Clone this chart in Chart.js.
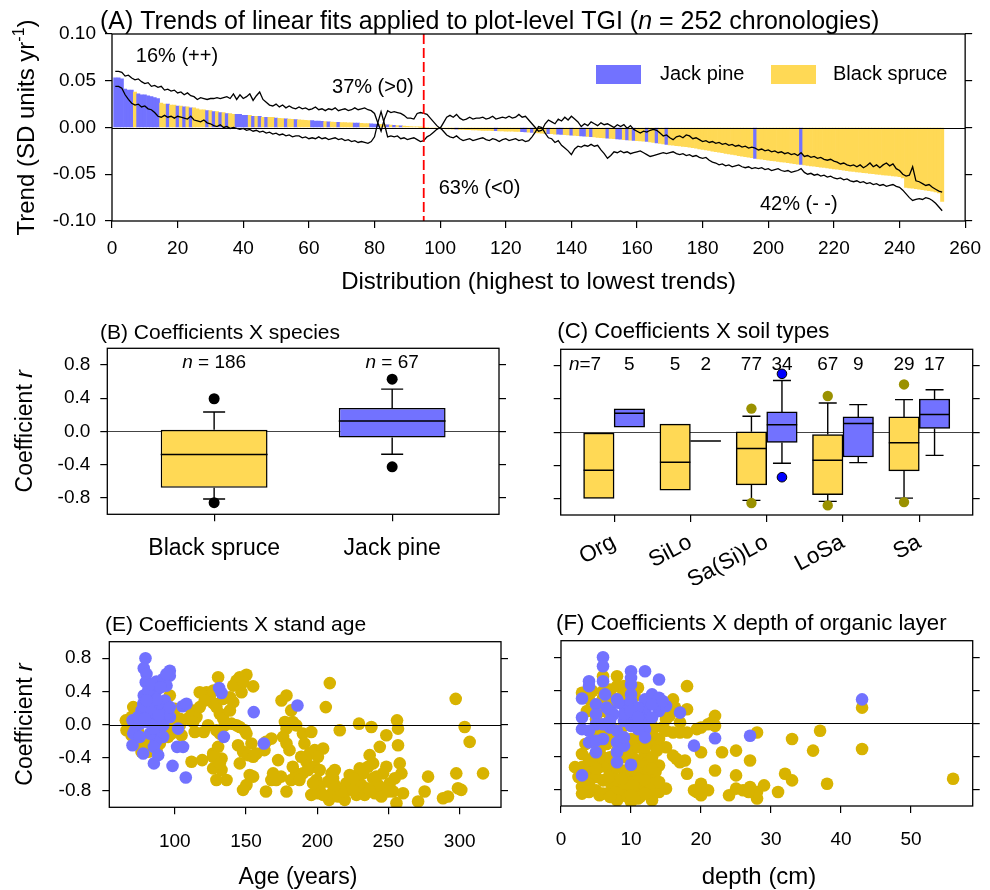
<!DOCTYPE html>
<html>
<head>
<meta charset="utf-8">
<title>TGI trends and correlation coefficients</title>
<script src="https://cdn.jsdelivr.net/npm/chart.js@4.4.0/dist/chart.umd.min.js"></script>
<style>
  html, body { margin: 0; padding: 0; background: #fff; }
  #fig { position: relative; width: 990px; height: 890px; overflow: hidden; }
  #fig canvas { position: absolute; left: 0; top: 0; }
</style>
</head>
<body>
<div id="fig">
  <canvas id="cA" width="990" height="890"></canvas>
  <canvas id="cB" width="990" height="890"></canvas>
  <canvas id="cC" width="990" height="890"></canvas>
  <canvas id="cE" width="990" height="890"></canvas>
  <canvas id="cF" width="990" height="890"></canvas>
</div>
<script>
// ---------------- tick labels ----------------
const rankTicks  = [0, 20, 40, 60, 80, 100, 120, 140, 160, 180, 200, 220, 240, 260];
const trendTicks = [-0.10, -0.05, 0.00, 0.05, 0.10];
const coefTicks  = [-0.8, -0.4, 0.0, 0.4, 0.8];
const ageTicks   = [100, 150, 200, 250, 300];
const depthTicks = [0, 10, 20, 30, 40, 50];

// ---------------- (A) plot-level trends, sorted highest to lowest ----------------
const plotTrend = [
  0.053, 0.053, 0.052, 0.041, 0.040, 0.040, 0.038, 0.036, 0.035, 0.035,
  0.034, 0.033, 0.032, 0.031, 0.026, 0.025, 0.025, 0.024, 0.024, 0.023,
  0.023, 0.022, 0.022, 0.021, 0.021, 0.020, 0.019, 0.019, 0.018, 0.018,
  0.017, 0.017, 0.016, 0.016, 0.015, 0.015, 0.014, 0.014, 0.014, 0.013,
  0.013, 0.013, 0.012, 0.012, 0.012, 0.011, 0.011, 0.011, 0.011, 0.0100,
  0.0098, 0.0095, 0.0093, 0.0090, 0.0088, 0.0085, 0.0082, 0.0080, 0.0077, 0.0075,
  0.0073, 0.0070, 0.0068, 0.0065, 0.0063, 0.0060, 0.0058, 0.0056, 0.0055, 0.0053,
  0.0052, 0.0050, 0.0049, 0.0047, 0.0046, 0.0045, 0.0043, 0.0041, 0.0039, 0.0037,
  0.0035, 0.0033, 0.0031, 0.0029, 0.0026, 0.0024, 0.0021, 0.0019, 0.0016, 0.0013,
  0.0010, 0.0008, 0.0005, 0.0002, -0.0001, -0.0003, -0.0005, -0.0007, -0.0009, -0.0011,
  -0.0012, -0.0014, -0.0015, -0.0017, -0.0018, -0.0020, -0.0021, -0.0023, -0.0024, -0.0026,
  -0.0027, -0.0029, -0.0030, -0.0031, -0.0032, -0.0034, -0.0035, -0.0036, -0.0037, -0.0038,
  -0.0039, -0.0040, -0.0041, -0.0043, -0.0045, -0.0047, -0.0050, -0.0052, -0.0055, -0.0057,
  -0.0060, -0.0062, -0.0065, -0.0067, -0.0070, -0.0072, -0.0075, -0.0077, -0.0080, -0.0082,
  -0.0085, -0.0087, -0.0090, -0.0093, -0.0096, -0.0099, -0.0102, -0.0105, -0.0108, -0.0111,
  -0.0114, -0.0117, -0.0120, -0.0123, -0.0126, -0.0129, -0.0132, -0.0135, -0.0138, -0.0141,
  -0.0144, -0.0147, -0.0150, -0.0155, -0.0160, -0.0166, -0.0171, -0.0176, -0.0181, -0.0186,
  -0.0190, -0.0194, -0.0198, -0.0202, -0.0206, -0.0210, -0.0216, -0.0222, -0.0228, -0.0234,
  -0.0240, -0.0246, -0.0252, -0.0258, -0.0264, -0.0270, -0.0276, -0.0282, -0.0288, -0.0294,
  -0.0300, -0.0306, -0.0312, -0.0318, -0.0324, -0.0330, -0.0335, -0.0340, -0.0344, -0.0349,
  -0.0354, -0.0358, -0.0363, -0.0368, -0.0372, -0.0377, -0.0382, -0.0386, -0.0391, -0.0396,
  -0.0400, -0.0405, -0.0410, -0.0414, -0.0419, -0.0424, -0.0428, -0.0433, -0.0438, -0.0442,
  -0.0447, -0.0452, -0.0456, -0.0461, -0.0466, -0.0470, -0.0474, -0.0478, -0.0482, -0.0486,
  -0.0490, -0.0494, -0.0498, -0.0502, -0.0506, -0.0509, -0.0513, -0.0517, -0.0521, -0.0525,
  -0.0540, -0.0640, -0.0645, -0.0650, -0.0655, -0.0660, -0.0665, -0.0670, -0.0675, -0.0680,
  -0.0690, -0.0700, -0.0790
];
const trendUpper = [
  0.060, 0.060, 0.059, 0.055, 0.056, 0.053, 0.051, 0.052, 0.049, 0.047,
  0.048, 0.044, 0.045, 0.043, 0.044, 0.040, 0.041, 0.039, 0.040, 0.037,
  0.038, 0.035, 0.037, 0.034, 0.033, 0.030, 0.032, 0.031, 0.030, 0.031,
  0.031, 0.032, 0.031, 0.032, 0.033, 0.031, 0.036, 0.030, 0.035, 0.031,
  0.033, 0.036, 0.029, 0.034, 0.038, 0.030, 0.027, 0.024, 0.023, 0.025,
  0.022, 0.024, 0.021, 0.023, 0.021, 0.020, 0.022, 0.020, 0.021, 0.019,
  0.020, 0.022, 0.019, 0.020, 0.018, 0.020, 0.019, 0.021, 0.018, 0.019,
  0.020, 0.018, 0.019, 0.021, 0.019, 0.020, 0.021, 0.019, 0.018, 0.015,
  0.005, -0.004, 0.009, 0.018, 0.016, 0.017, 0.016, 0.015, 0.013, 0.010,
  0.010, 0.009, 0.015, 0.016, 0.015, 0.014, 0.010, 0.006, 0.002, -0.001,
  0.005, 0.011, 0.013, 0.011, 0.014, 0.010, 0.008, 0.009, 0.011, 0.009,
  0.010, 0.010, 0.011, 0.009, 0.010, 0.012, 0.009, 0.010, 0.011, 0.010,
  0.012, 0.010, 0.011, 0.014, 0.011, 0.012, 0.008, 0.004, 0.000, -0.004,
  -0.003, 0.004, 0.008, 0.006, 0.004, 0.009, 0.007, 0.011, 0.008, 0.012,
  0.009, 0.006, 0.001, 0.004, 0.002, 0.006, 0.004, 0.002, 0.005, 0.003,
  0.004, 0.002, 0.000, 0.003, 0.001, 0.003, -0.001, 0.002, -0.002, -0.004,
  -0.006, -0.004, -0.005, -0.003, -0.002, -0.003, -0.006, -0.009, -0.008, -0.011,
  -0.013, -0.010, -0.009, -0.011, -0.008, -0.009, -0.012, -0.011, -0.013, -0.015,
  -0.014, -0.016, -0.015, -0.017, -0.016, -0.018, -0.017, -0.019, -0.018, -0.020,
  -0.019, -0.021, -0.020, -0.022, -0.021, -0.022, -0.024, -0.023, -0.025, -0.024,
  -0.026, -0.025, -0.027, -0.026, -0.028, -0.027, -0.029, -0.028, -0.030, -0.027,
  -0.031, -0.030, -0.032, -0.031, -0.033, -0.032, -0.034, -0.035, -0.034, -0.036,
  -0.037, -0.039, -0.038, -0.040, -0.041, -0.040, -0.042, -0.040, -0.043, -0.041,
  -0.038, -0.042, -0.040, -0.043, -0.040, -0.038, -0.041, -0.039, -0.044, -0.046,
  -0.050, -0.052, -0.051, -0.042, -0.057, -0.058, -0.060, -0.062, -0.061, -0.064,
  -0.066, -0.068, -0.069
];
const trendLower = [
  0.044, 0.044, 0.042, 0.035, 0.030, 0.026, 0.024, 0.025, 0.022, 0.023,
  0.020, 0.019, 0.016, 0.012, 0.011, 0.013, 0.011, 0.012, 0.010, 0.012,
  0.011, 0.010, 0.009, 0.012, 0.008, 0.007, 0.006, 0.008, 0.005, 0.004,
  0.002, 0.001, 0.003, 0.000, 0.001, -0.001, 0.000, -0.001, -0.002, -0.001,
  -0.003, -0.002, -0.004, -0.003, -0.005, -0.004, -0.006, -0.005, -0.007, -0.006,
  -0.008, -0.007, -0.009, -0.008, -0.010, -0.009, -0.009, -0.011, -0.010, -0.012,
  -0.011, -0.012, -0.010, -0.012, -0.011, -0.013, -0.012, -0.011, -0.013, -0.012,
  -0.014, -0.013, -0.015, -0.014, -0.016, -0.015, -0.016, -0.017, -0.015, -0.010,
  0.005, 0.017, 0.004, -0.010, -0.009, -0.010, -0.009, -0.012, -0.011, -0.013,
  -0.012, -0.011, -0.013, -0.015, -0.014, -0.010, -0.008, -0.005, -0.002, 0.000,
  -0.004, -0.008, -0.010, -0.011, -0.009, -0.012, -0.014, -0.013, -0.012, -0.014,
  -0.013, -0.012, -0.011, -0.013, -0.014, -0.012, -0.013, -0.015, -0.013, -0.012,
  -0.014, -0.013, -0.012, -0.014, -0.013, -0.015, -0.014, -0.010, -0.005, 0.001,
  0.000, -0.006, -0.011, -0.012, -0.016, -0.014, -0.019, -0.022, -0.025, -0.029,
  -0.023, -0.020, -0.021, -0.019, -0.020, -0.018, -0.020, -0.019, -0.024, -0.028,
  -0.033, -0.030, -0.026, -0.027, -0.025, -0.027, -0.026, -0.028, -0.027, -0.026,
  -0.025, -0.027, -0.029, -0.031, -0.030, -0.029, -0.028, -0.027, -0.028, -0.027,
  -0.026, -0.028, -0.029, -0.028, -0.030, -0.029, -0.031, -0.030, -0.032, -0.033,
  -0.032, -0.035, -0.037, -0.038, -0.040, -0.039, -0.041, -0.040, -0.042, -0.041,
  -0.040, -0.042, -0.043, -0.042, -0.044, -0.043, -0.044, -0.043, -0.045, -0.044,
  -0.046, -0.045, -0.044, -0.046, -0.047, -0.046, -0.048, -0.047, -0.046, -0.044,
  -0.048, -0.050, -0.049, -0.051, -0.050, -0.052, -0.051, -0.053, -0.052, -0.054,
  -0.055, -0.054, -0.056, -0.055, -0.057, -0.058, -0.057, -0.059, -0.058, -0.060,
  -0.059, -0.061, -0.060, -0.062, -0.061, -0.063, -0.062, -0.061, -0.063, -0.064,
  -0.067, -0.071, -0.075, -0.078, -0.077, -0.076, -0.077, -0.075, -0.076, -0.078,
  -0.081, -0.085, -0.089
];
// ranks (position in the sorted distribution) held by Jack pine plots; all others are Black spruce
const jackPineRanks = [
  1, 2, 3, 4, 5, 6, 8, 9, 10, 11, 12, 13, 14, 17, 20, 22, 24, 29, 31, 33, 35,
  38, 39, 40, 41, 43, 45, 47, 50, 53, 56, 61, 62, 63, 64, 66, 69, 74, 75, 79, 80,
  81, 84, 86, 88, 105, 117, 125, 126, 128, 133, 136, 137, 140, 143, 144, 146, 151,
  154, 155, 157, 159, 163, 166, 169, 196, 210
];
const zeroCrossRank = 95;
const shareLabels = ['16% (++)', '37% (>0)', '63% (<0)', '42% (- -)'];
const chronologyCount = 252;

// ---------------- (B) coefficients by species: [lower whisker, Q1, median, Q3, upper whisker] ----------------
const speciesNames  = ['Black spruce', 'Jack pine'];
const speciesCounts = [186, 67];
const speciesBoxBS  = [-0.816, -0.68, -0.28, 0.02, 0.232];
const speciesBoxJP  = [-0.276, -0.076, 0.124, 0.28, 0.508];
const speciesOutBS  = [0.392, -0.86];
const speciesOutJP  = [0.628, -0.428];

// ---------------- (C) coefficients by soil type ----------------
const soilTypes    = ['Org', 'SiLo', 'Sa(Si)Lo', 'LoSa', 'Sa'];
const soilCountsBS = [7, 5, 77, 67, 29];
const soilCountsJP = [5, 2, 34, 9, 17];
const soilBoxBS = [
  [null, -0.80, -0.46, -0.01, null],
  [null, -0.70, -0.364, 0.096, null],
  [-0.824, -0.636, -0.196, 0.004, 0.192],
  [-0.836, -0.756, -0.34, -0.028, 0.352],
  [-0.796, -0.468, -0.128, 0.184, 0.392]
];
const soilBoxJP = [
  [null, 0.06, 0.228, 0.28, null],
  [null, -0.108, -0.108, -0.108, null],
  [-0.376, -0.124, 0.088, 0.244, 0.624],
  [-0.368, -0.30, 0.104, 0.184, 0.332],
  [-0.28, 0.044, 0.212, 0.40, 0.512]
];
const soilOutBS = [[], [], [0.284, -0.856], [0.436, -0.884], [0.576, -0.844]];
const soilOutJP = [[], [], [0.704, -0.544], [], []];

// ---------------- (E) coefficient vs stand age [years, r] ----------------
const ageCoefJP = [
  [79.4,0.80],[78.2,0.68],[80.1,0.61],[79.6,0.51],[87.1,0.52],[91.8,0.55],[96.5,0.65],[96.5,0.59],[94.2,0.47],[87.1,0.41],
  [78.2,0.35],[81.3,0.33],[84.8,0.37],[93.0,0.29],[77.8,0.25],[81.3,0.21],[86.0,0.23],[89.5,0.19],[95.3,0.17],[96.5,0.09],
  [80.1,0.13],[83.6,0.09],[76.6,0.17],[70.3,0.05],[72.0,-0.07],[75.4,0.01],[80.1,0.03],[86.0,0.01],[88.3,-0.07],[91.8,-0.15],
  [86.7,-0.21],[70.3,-0.25],[77.8,-0.35],[85.3,-0.27],[88.3,-0.37],[85.3,-0.47],[98.4,-0.50],[107.7,-0.64],[102.3,-0.05],[101.6,-0.27],
  [105.8,-0.27],[105.4,0.22],[108.2,0.25],[131.1,0.44],[132.8,0.38],[134.4,-0.15],[155.4,0.15],[162.5,-0.23],[186.1,0.23],[70.8,-0.11],
  [82.5,-0.11],[90.7,0.09],[91.8,-0.01],[74.2,0.09],[83.6,0.15],[87.1,0.30],[81.3,0.41],[94.0,0.13],[84.8,-0.05],[88.8,0.11],
  [79.0,0.07],[75.4,-0.15],[94.2,0.61],[80.1,0.29],[83.6,0.49],[90.0,0.45],[96.5,0.21]
];
const ageCoefBS = [
  [65.6,0.05],[68.4,-0.01],[70.8,0.21],[73.1,0.13],[69.6,-0.13],[75.4,-0.21],[72.0,-0.23],[80.1,-0.23],[81.3,-0.33],[76.6,-0.33],
  [91.8,0.05],[94.2,-0.03],[97.7,-0.11],[100.0,0.09],[103.5,-0.01],[104.7,-0.13],[96.5,0.35],[108.9,0.07],[111.7,0.17],[114.0,-0.09],
  [115.2,0.09],[117.5,0.21],[120.3,-0.09],[111.7,-0.45],[119.2,-0.43],[122.2,0.39],[124.6,0.35],[126.9,0.26],[129.2,0.21],[130.4,0.57],
  [131.6,0.13],[134.0,0.07],[135.1,-0.01],[131.6,-0.11],[129.2,-0.07],[126.9,-0.35],[130.4,-0.27],[132.8,-0.41],[126.9,-0.53],[132.8,-0.55],
  [136.3,-0.67],[134.0,0.31],[141.0,0.27],[143.3,0.53],[145.6,0.57],[150.3,0.60],[146.8,0.39],[155.0,0.46],[145.6,-0.03],[150.3,-0.11],
  [144.4,-0.25],[147.9,-0.33],[151.4,-0.37],[155.0,-0.39],[145.6,-0.47],[152.6,-0.61],[150.3,-0.73],[147.9,-0.79],[162.9,-0.31],[164.0,-0.21],
  [167.8,-0.17],[164.0,-0.81],[167.8,-0.67],[169.0,-0.59],[172.5,-0.43],[174.9,0.29],[178.4,0.35],[177.3,0.03],[178.4,-0.05],[176.0,-0.15],
  [181.7,0.17],[182.8,0.03],[185.2,-0.01],[180.5,-0.31],[178.4,-0.81],[181.7,-0.67],[185.2,-0.59],[189.9,-0.59],[189.9,-0.11],[195.8,-0.09],
  [192.4,-0.45],[194.7,-0.35],[198.2,-0.31],[195.8,-0.85],[199.4,-0.67],[201.7,-0.75],[200.5,-0.83],[204.1,-0.29],[206.0,0.21],[208.8,0.50],
  [207.6,-0.69],[210.0,-0.59],[212.3,-0.55],[208.3,-0.91],[211.1,-0.81],[214.6,-0.87],[215.8,-0.07],[219.3,-0.91],[221.6,-0.79],[224.0,-0.71],
  [226.3,-0.63],[227.5,-0.85],[229.3,0.01],[231.0,-0.73],[232.2,-0.59],[234.5,-0.77],[235.7,-0.51],[236.8,-0.37],[238.0,-0.03],[239.2,-0.65],
  [240.4,-0.83],[242.7,-0.73],[243.9,-0.27],[246.2,-0.59],[247.4,-0.77],[248.5,-0.51],[248.5,-0.13],[250.9,-0.71],[253.2,-0.81],[255.6,-0.95],
  [256.0,0.05],[256.7,-0.05],[256.7,-0.25],[257.9,-0.47],[259.1,-0.59],[260.2,-0.83],[270.8,-0.93],[275.4,-0.81],[277.8,-0.63],[288.3,-0.89],
  [291.8,-0.87],[297.2,0.31],[297.6,-0.59],[298.8,-0.77],[301.1,-0.79],[303.5,-0.03],[307.0,-0.21],[316.4,-0.59],[220.5,-0.71],[225.2,-0.79],
  [228.7,-0.67],[233.3,-0.85],[236.8,-0.79],[241.5,-0.63],[245.0,-0.87],[249.7,-0.81],[254.4,-0.65],[217.0,-0.81],[212.3,-0.73],[204.1,-0.85],
  [197.1,-0.71],[193.6,-0.55],[198.2,-0.51],[200.5,-0.39],[201.7,-0.55],[187.5,-0.67],[182.8,-0.51],[174.6,-0.63],[171.2,-0.67],[222.8,-0.61],
  [229.8,-0.53],[239.2,-0.47],[225.2,-0.65],[211.1,-0.65],[188.7,-0.39],[191.0,-0.23],[178.4,-0.23],[112.9,0.03],[123.4,-0.01],[138.7,0.17],
  [139.8,0.01],[143.3,-0.01],[149.1,-0.07],[153.8,-0.23],[157.3,-0.35],[155.0,-0.63],[129.2,-0.67],[126.9,-0.39],[131.6,-0.47],[117.5,0.39],
  [121.0,0.29],[127.1,0.41],[138.7,0.33],[141.0,0.47],[148.1,0.51],[66.1,-0.07],[69.6,0.09],[74.2,-0.09],[77.8,-0.21],[83.6,-0.15],
  [87.1,-0.31],[89.5,-0.23],[94.2,-0.13],[98.8,0.01],[101.2,-0.07],[95.3,-0.15],[90.7,-0.03],[100.0,0.19],[103.5,0.07]
];

// ---------------- (F) coefficient vs depth of organic layer [cm, r] ----------------
const depthCoefJP = [
  [6,0.80],[6,0.69],[6,0.51],[4,0.51],[4,0.45],[3,0.30],[3,0.07],[3,-0.07],[4,-0.23],[5,-0.35],
  [6,-0.19],[3,-0.63],[5,0.23],[5,0.11],[5,-0.01],[7,-0.05],[7,0.15],[8,0.29],[8,-0.23],[8,-0.35],
  [8,-0.47],[9,-0.27],[9,0.03],[9,0.21],[10,0.63],[10,0.55],[10,0.47],[10,0.35],[10,0.27],[10,0.07],
  [10,-0.03],[10,-0.50],[12,0.63],[12,0.29],[12,0.15],[12,0.03],[12,-0.07],[12,-0.17],[13,0.35],[14,0.31],
  [14,0.53],[14,0.15],[15,0.21],[11,0.11],[11,-0.07],[13,0.23],[9,0.11],[7.5,0.11],[6.5,0.19],[17,0.13],
  [19,-0.27],[22,-0.18],[27,-0.15],[43,0.29],[6,-0.01],[4,-0.09],[7,0.03],[11,0.19],[13,0.07],[8,-0.09],
  [9,-0.17],[5,-0.21],[10,0.15],[11,0.07],[6.3,0.35],[8.2,0.25],[14.5,0.27]
];
const depthCoefBS = [
  [2,-0.53],[3,0.37],[3,-0.53],[3,-0.77],[4,-0.83],[4,-0.63],[5,-0.81],[5,-0.65],[5.5,-0.53],[6,-0.69],
  [7,-0.83],[7,-0.71],[6,0.57],[6,0.39],[7,0.41],[8,0.57],[8.5,0.31],[9,-0.57],[8.5,-0.77],[9,-0.87],
  [10,-0.95],[10,-0.81],[10,-0.65],[9.5,-0.41],[10,-0.33],[11,-0.91],[11,-0.77],[11.5,-0.61],[12,-0.37],[12,-0.49],
  [12.7,-0.65],[13,-0.93],[13,-0.73],[14,-0.51],[13,-0.03],[14,-0.19],[15,-0.29],[15,-0.79],[15,0.05],[16,0.29],
  [16,-0.11],[16,-0.39],[17,-0.47],[18,0.45],[18,0.17],[18,-0.11],[18,-0.61],[17,0.01],[19,-0.81],[20,-0.05],
  [20,-0.35],[20,-0.73],[20,-0.87],[21,-0.81],[22,-0.57],[22,0.09],[22,-0.03],[21,-0.01],[23,-0.35],[24,-0.87],
  [25,-0.63],[25,-0.33],[25,-0.79],[26,-0.81],[27,-0.45],[27,-0.77],[28,-0.11],[28,-0.91],[28,-0.83],[29,-0.75],
  [31,-0.83],[32,-0.61],[33,-0.69],[33,-0.19],[36,-0.33],[37,-0.09],[38,-0.73],[43,0.19],[43,-0.31],[56,-0.67],
  [2.5,-0.65],[3,-0.37],[3.5,-0.25],[4,0.29],[4.5,0.39],[4.5,0.15],[5,-0.09],[5,-0.45],[5.5,-0.33],[6,-0.41],
  [6.5,-0.25],[6.5,-0.53],[7,-0.41],[7.5,-0.57],[8,-0.81],[8,-0.69],[8,-0.53],[7,-0.15],[7,0.35],[8,0.45],
  [9,0.37],[10.5,0.33],[11,0.43],[11,-0.29],[11,-0.53],[10.5,-0.43],[12,-0.81],[12.5,-0.57],[13,-0.41],[13.5,-0.27],
  [13.5,-0.59],[14,-0.83],[12,-0.15],[12.7,-0.23],[14.5,-0.05],[15,-0.09],[15.5,0.09],[16.3,0.19],[17,-0.11],[17.7,-0.45],
  [16.5,-0.43],[8,-0.93],[9,-0.73],[11,-0.67],[9.5,-0.89],[11.3,-0.89],[4,-0.73],[3.7,-0.53],[5.5,-0.87],[6.8,-0.65],
  [8.7,-0.67],[10.3,-0.75],[12,-0.69],[12.7,-0.81],[5,-0.55],[5.3,-0.29],[6.3,-0.07],[7.5,-0.07],[8.5,-0.17],[9,-0.03],
  [10,-0.19],[11,-0.17],[11.5,-0.03],[13,-0.11],[13.7,-0.33],[3.7,0.15],[4.6,-0.41],[6,0.31],[7.5,0.25],[9.4,0.21],
  [10.3,0.43],[19.4,-0.07],[21.5,0.01],[20,-0.83],[19.4,-0.83],[26.8,-0.83],[3,-0.85],[4,-0.45],[5,0.05],[6,-0.85],
  [7,-0.89],[8,-0.33],[9,-0.41],[10,-0.57],[11,-0.47],[12,-0.85],[13,-0.55],[14,-0.71],[6,0.15],[7,0.05],
  [9,0.45],[10,0.27],[5,-0.17],[8,-0.45],[12,-0.29],[10,-0.87]
];

// ---------------- styling ----------------
const FONT = '"Liberation Sans", Arial, Helvetica, sans-serif';
const YELLOW = '#ffd955';
const BLUE = '#7272ff';
const GOLD = '#d8b300';
const OLIVE = '#9a9100';
Chart.defaults.font.family = FONT;
Chart.defaults.color = '#000';

// Draws a run of text pieces (plain / italic / superscript) as one line.
function drawRuns(ctx, runs, x, y, size, align, rot) {
  ctx.save();
  ctx.translate(x, y);
  if (rot) ctx.rotate(rot);
  const fonts = runs.map(r => (r.italic ? 'italic ' : '') + (r.sup ? Math.round(size * 0.66) : size) + 'px ' + FONT);
  let total = 0;
  const widths = runs.map((r, i) => { ctx.font = fonts[i]; const w = ctx.measureText(r.t).width; total += w; return w; });
  let cx = align === 'center' ? -total / 2 : align === 'right' ? -total : 0;
  ctx.textAlign = 'left';
  ctx.textBaseline = 'alphabetic';
  ctx.fillStyle = '#000';
  runs.forEach((r, i) => {
    ctx.font = fonts[i];
    ctx.fillText(r.t, cx, r.sup ? -size * 0.4 : 0);
    cx += widths[i];
  });
  ctx.restore();
}

function frame(ctx, a) {
  ctx.save();
  ctx.strokeStyle = '#000';
  ctx.lineWidth = 1.3;
  ctx.strokeRect(a.left, a.top, a.right - a.left, a.bottom - a.top);
  ctx.restore();
}

function zeroLine(chart, color, width) {
  const { ctx, chartArea: a, scales: { y } } = chart;
  const py = Math.round(y.getPixelForValue(0)) + 0.5;
  ctx.save();
  ctx.strokeStyle = color;
  ctx.lineWidth = width;
  ctx.beginPath();
  ctx.moveTo(a.left, py);
  ctx.lineTo(a.right, py);
  ctx.stroke();
  ctx.restore();
}

// Layout padding that puts the plotting area at a given place on the page.
function pad(L, T, R, B, wl, wr, hb) {
  return { left: L - wl, top: T, right: 990 - R - wr, bottom: 890 - B - hb };
}

function axis(o) {
  return {
    type: 'linear', position: o.pos, min: o.min, max: o.max, offset: false,
    grid: { display: true, drawOnChartArea: false, drawTicks: true, tickLength: 7,
            color: '#000', tickColor: '#000', lineWidth: 1.2, offset: false },
    border: { display: false },
    ticks: {
      padding: o.pad || 0, color: '#000', autoSkip: false, includeBounds: false,
      minRotation: o.rot || 0, maxRotation: o.rot || 0,
      font: { family: FONT, size: o.size || 19 },
      callback: o.fmt || (() => '')
    },
    afterBuildTicks: s => { s.ticks = o.ticks.map(v => ({ value: v })); },
    afterFit: s => { if (o.pos === 'bottom') s.height = o.box; else s.width = o.box; }
  };
}

const baseOptions = (padding) => ({
  responsive: false, animation: false, events: [],
  layout: { padding, autoPadding: false },
  plugins: { legend: { display: false }, tooltip: { enabled: false }, title: { display: false } }
});

// Whiskers with end caps for a box [lo, q1, med, q3, hi] centred at pixel cx.
function whiskers(ctx, yScale, cx, st, half) {
  ctx.beginPath();
  if (st[4] != null) {
    const a = yScale.getPixelForValue(st[3]), b = yScale.getPixelForValue(st[4]);
    ctx.moveTo(cx, a); ctx.lineTo(cx, b);
    ctx.moveTo(cx - half, b); ctx.lineTo(cx + half, b);
  }
  if (st[0] != null) {
    const a = yScale.getPixelForValue(st[1]), b = yScale.getPixelForValue(st[0]);
    ctx.moveTo(cx, a); ctx.lineTo(cx, b);
    ctx.moveTo(cx - half, b); ctx.lineTo(cx + half, b);
  }
  ctx.stroke();
}

function medians(chart, datasetIndex, stats) {
  const { ctx, scales: { y } } = chart;
  const meta = chart.getDatasetMeta(datasetIndex);
  ctx.save();
  ctx.strokeStyle = '#000';
  ctx.lineWidth = 1.5;
  ctx.beginPath();
  meta.data.forEach((el, i) => {
    const py = y.getPixelForValue(stats[i][2]);
    ctx.moveTo(el.x - el.width / 2, py);
    ctx.lineTo(el.x + el.width / 2, py);
  });
  ctx.stroke();
  ctx.restore();
}

// ================= (A) =================
const ranks = plotTrend.map((_, i) => i + 1);
new Chart(document.getElementById('cA'), {
  type: 'bar',
  data: {
    datasets: [
      { type: 'line', data: ranks.map((r, i) => ({ x: r, y: trendUpper[i] })),
        borderColor: '#000', borderWidth: 1.3, pointRadius: 0, tension: 0, order: 0 },
      { type: 'line', data: ranks.map((r, i) => ({ x: r, y: trendLower[i] })),
        borderColor: '#000', borderWidth: 1.3, pointRadius: 0, tension: 0, order: 0 },
      { type: 'bar', data: ranks.map((r, i) => ({ x: r, y: plotTrend[i] })),
        backgroundColor: ranks.map(r => jackPineRanks.includes(r) ? BLUE : YELLOW),
        borderWidth: 0, barPercentage: 1, categoryPercentage: 1, order: 1 }
    ]
  },
  options: Object.assign(baseOptions(pad(112, 34, 971.7, 221, 100, 10, 40)), {
    scales: {
      x: axis({ pos: 'bottom', min: 0, max: 260, ticks: rankTicks, fmt: v => String(v), box: 40, pad: 9 }),
      y: axis({ pos: 'left', min: -0.1, max: 0.1, ticks: trendTicks, fmt: v => v.toFixed(2), box: 100, pad: 9 }),
      y2: axis({ pos: 'right', min: -0.1, max: 0.1, ticks: trendTicks, box: 10 })
    }
  }),
  plugins: [{
    id: 'decorA',
    afterDatasetsDraw(chart) {
      const { ctx, chartArea: a, scales: { x, y } } = chart;
      zeroLine(chart, '#000', 1.1);
      // split between positive and negative trends
      ctx.save();
      ctx.strokeStyle = '#ff0000';
      ctx.lineWidth = 1.8;
      ctx.setLineDash([10, 4]);
      const xs = x.getPixelForValue(zeroCrossRank);
      ctx.beginPath(); ctx.moveTo(xs, a.top); ctx.lineTo(xs, a.bottom); ctx.stroke();
      ctx.restore();
      // shares of the distribution
      const spots = [[19.8, 0.0698], [79.5, 0.0368], [112, -0.071], [209.3, -0.0881]];
      shareLabels.forEach((s, i) => drawRuns(ctx, [{ t: s }], x.getPixelForValue(spots[i][0]), y.getPixelForValue(spots[i][1]), 20, 'center'));
      // legend
      ctx.save();
      ctx.fillStyle = BLUE;   ctx.fillRect(596, 65, 45, 19);
      ctx.fillStyle = YELLOW; ctx.fillRect(771, 65, 45, 19);
      ctx.restore();
      drawRuns(ctx, [{ t: speciesNames[1] }], 660, 80, 20, 'left');
      drawRuns(ctx, [{ t: speciesNames[0] }], 833, 80, 20, 'left');
      frame(ctx, a);
      // titles
      drawRuns(ctx, [{ t: '(A) Trends of linear fits applied to plot-level TGI (' }, { t: 'n', italic: true },
                     { t: ' = ' + chronologyCount + ' chronologies)' }], 100, 29, 25, 'left');
      drawRuns(ctx, [{ t: 'Trend (SD units yr' }, { t: '-1', sup: true }, { t: ')' }], 33.5, (a.top + a.bottom) / 2, 24, 'center', -Math.PI / 2);
      drawRuns(ctx, [{ t: 'Distribution (highest to lowest trends)' }], (a.left + a.right) / 2, 289, 24, 'center');
    }
  }]
});

// ================= (B) =================
const speciesBoxes = [speciesBoxBS, speciesBoxJP];
new Chart(document.getElementById('cB'), {
  type: 'bar',
  data: {
    datasets: [
      { type: 'scatter',
        data: speciesOutBS.map(v => ({ x: 1, y: v })).concat(speciesOutJP.map(v => ({ x: 2, y: v }))),
        backgroundColor: '#000', borderWidth: 0, pointRadius: 5.5, order: 0, clip: false },
      { type: 'bar',
        data: speciesBoxes.map((s, i) => ({ x: i + 1, y: [s[1], s[3]] })),
        backgroundColor: [YELLOW, BLUE], borderColor: '#000', borderWidth: 1.5, borderSkipped: false,
        barPercentage: 0.6, categoryPercentage: 1, order: 1 }
    ]
  },
  options: Object.assign(baseOptions(pad(107.3, 348.3, 499, 514.3, 100, 10, 60)), {
    scales: {
      x: axis({ pos: 'bottom', min: 0.4, max: 2.6, ticks: [1, 2], fmt: v => speciesNames[v - 1], size: 23, box: 60, pad: 13.5 }),
      y: axis({ pos: 'left', min: -1, max: 1, ticks: coefTicks, fmt: v => v.toFixed(1), box: 100, pad: 10 }),
      y2: axis({ pos: 'right', min: -1, max: 1, ticks: coefTicks, box: 10 })
    }
  }),
  plugins: [{
    id: 'decorB',
    beforeDatasetsDraw(chart) {
      const { ctx, scales: { x, y } } = chart;
      zeroLine(chart, '#444', 1.1);
      ctx.save(); ctx.strokeStyle = '#000'; ctx.lineWidth = 1.4;
      speciesBoxes.forEach((s, i) => whiskers(ctx, y, x.getPixelForValue(i + 1), s, 11));
      ctx.restore();
    },
    afterDatasetsDraw(chart) {
      const { ctx, chartArea: a, scales: { x } } = chart;
      medians(chart, 1, speciesBoxes);
      frame(ctx, a);
      speciesCounts.forEach((n, i) => drawRuns(ctx, [{ t: 'n', italic: true }, { t: ' = ' + n }], x.getPixelForValue(i + 1), 367.5, 19, 'center'));
      drawRuns(ctx, [{ t: '(B) Coefficients X species' }], 100, 339, 21, 'left');
      drawRuns(ctx, [{ t: 'Coefficient ' }, { t: 'r', italic: true }], 32, (a.top + a.bottom) / 2, 23, 'center', -Math.PI / 2);
    }
  }]
});

// ================= (C) =================
const soilStats = [];
const soilPoints = [];
const soilColors = [];
soilTypes.forEach((_, k) => {
  soilStats.push(soilBoxBS[k], soilBoxJP[k]);
  soilPoints.push({ x: k + 1 - 0.2, y: [soilBoxBS[k][1], soilBoxBS[k][3]] },
                  { x: k + 1 + 0.2, y: [soilBoxJP[k][1], soilBoxJP[k][3]] });
  soilColors.push(YELLOW, BLUE);
});
new Chart(document.getElementById('cC'), {
  type: 'bar',
  data: {
    datasets: [
      { type: 'scatter', data: soilOutJP.flatMap((arr, k) => arr.map(v => ({ x: k + 1 + 0.2, y: v }))),
        backgroundColor: '#0000ff', borderColor: '#000', borderWidth: 1, pointRadius: 4.8, order: 0, clip: false },
      { type: 'scatter', data: soilOutBS.flatMap((arr, k) => arr.map(v => ({ x: k + 1 - 0.2, y: v }))),
        backgroundColor: OLIVE, borderWidth: 0, pointRadius: 5.2, order: 0, clip: false },
      { type: 'bar', data: soilPoints, backgroundColor: soilColors, borderColor: '#000', borderWidth: 1.5,
        borderSkipped: false, barPercentage: 1, categoryPercentage: 1, order: 1 }
    ]
  },
  options: Object.assign(baseOptions(pad(560.7, 349.3, 972.7, 515, 10, 10, 70)), {
    scales: {
      x: axis({ pos: 'bottom', min: 0.3, max: 5.7, ticks: [1, 2, 3, 4, 5], fmt: v => soilTypes[v - 1], size: 22.5, rot: 28, box: 70, pad: 7 }),
      y: axis({ pos: 'left', min: -1, max: 1, ticks: coefTicks, box: 10 }),
      y2: axis({ pos: 'right', min: -1, max: 1, ticks: coefTicks, box: 10 })
    }
  }),
  plugins: [{
    id: 'decorC',
    beforeDatasetsDraw(chart) {
      const { ctx, scales: { x, y } } = chart;
      zeroLine(chart, '#444', 1.1);
      ctx.save(); ctx.strokeStyle = '#000'; ctx.lineWidth = 1.4;
      soilStats.forEach((s, i) => whiskers(ctx, y, x.getPixelForValue(soilPoints[i].x), s, 9));
      ctx.restore();
    },
    afterDatasetsDraw(chart) {
      const { ctx, chartArea: a, scales: { x } } = chart;
      medians(chart, 2, soilStats);
      frame(ctx, a);
      soilTypes.forEach((_, k) => {
        const xb = x.getPixelForValue(k + 1 - 0.2), xj = x.getPixelForValue(k + 1 + 0.2);
        if (k === 0) {
          ctx.save(); ctx.font = '19px ' + FONT;
          const w = ctx.measureText(String(soilCountsBS[k])).width;
          ctx.restore();
          drawRuns(ctx, [{ t: 'n', italic: true }, { t: '=' }], xb - 3 - w / 2, 370, 19, 'right');
          drawRuns(ctx, [{ t: String(soilCountsBS[k]) }], xb - 3, 370, 19, 'center');
        } else {
          drawRuns(ctx, [{ t: String(soilCountsBS[k]) }], xb, 370, 19, 'center');
        }
        drawRuns(ctx, [{ t: String(soilCountsJP[k]) }], xj, 370, 19, 'center');
      });
      drawRuns(ctx, [{ t: '(C) Coefficients X soil types' }], 557.3, 337.5, 22.2, 'left');
    }
  }]
});

// ================= (E) =================
new Chart(document.getElementById('cE'), {
  type: 'scatter',
  data: {
    datasets: [
      { data: ageCoefJP.map(([x, y]) => ({ x, y })), backgroundColor: BLUE, borderWidth: 0, pointRadius: 6.3, clip: 0 },
      { data: ageCoefBS.map(([x, y]) => ({ x, y })), backgroundColor: GOLD, borderWidth: 0, pointRadius: 6.3, clip: 0 }
    ]
  },
  options: Object.assign(baseOptions(pad(109.3, 641.7, 501, 807.3, 100, 10, 50)), {
    scales: {
      x: axis({ pos: 'bottom', min: 54, max: 329, ticks: ageTicks, fmt: v => String(v), box: 50, pad: 16 }),
      y: axis({ pos: 'left', min: -1, max: 1, ticks: coefTicks, fmt: v => v.toFixed(1), box: 100, pad: 11 }),
      y2: axis({ pos: 'right', min: -1, max: 1, ticks: coefTicks, box: 10 })
    }
  }),
  plugins: [{
    id: 'decorE',
    afterDatasetsDraw(chart) {
      const { ctx, chartArea: a } = chart;
      zeroLine(chart, '#000', 1.2);
      frame(ctx, a);
      drawRuns(ctx, [{ t: '(E) Coefficients X stand age' }], 105, 631, 21, 'left');
      drawRuns(ctx, [{ t: 'Coefficient ' }, { t: 'r', italic: true }], 32, (a.top + a.bottom) / 2, 23, 'center', -Math.PI / 2);
      drawRuns(ctx, [{ t: 'Age (years)' }], 298, 884, 23, 'center');
    }
  }]
});

// ================= (F) =================
new Chart(document.getElementById('cF'), {
  type: 'scatter',
  data: {
    datasets: [
      { data: depthCoefJP.map(([x, y]) => ({ x, y })), backgroundColor: BLUE, borderWidth: 0, pointRadius: 6.3, clip: 0 },
      { data: depthCoefBS.map(([x, y]) => ({ x, y })), backgroundColor: GOLD, borderWidth: 0, pointRadius: 6.3, clip: 0 }
    ]
  },
  options: Object.assign(baseOptions(pad(561, 640.7, 972.7, 806, 10, 10, 50)), {
    scales: {
      x: axis({ pos: 'bottom', min: 0, max: 58.8, ticks: depthTicks, fmt: v => String(v), box: 50, pad: 15.5 }),
      y: axis({ pos: 'left', min: -1, max: 1, ticks: coefTicks, box: 10 }),
      y2: axis({ pos: 'right', min: -1, max: 1, ticks: coefTicks, box: 10 })
    }
  }),
  plugins: [{
    id: 'decorF',
    afterDatasetsDraw(chart) {
      const { ctx, chartArea: a } = chart;
      zeroLine(chart, '#000', 1.2);
      frame(ctx, a);
      drawRuns(ctx, [{ t: '(F) Coefficients X depth of organic layer' }], 556, 629.5, 22.2, 'left');
      drawRuns(ctx, [{ t: 'depth (cm)' }], 759, 884, 24, 'center');
    }
  }]
});
</script>
</body>
</html>
